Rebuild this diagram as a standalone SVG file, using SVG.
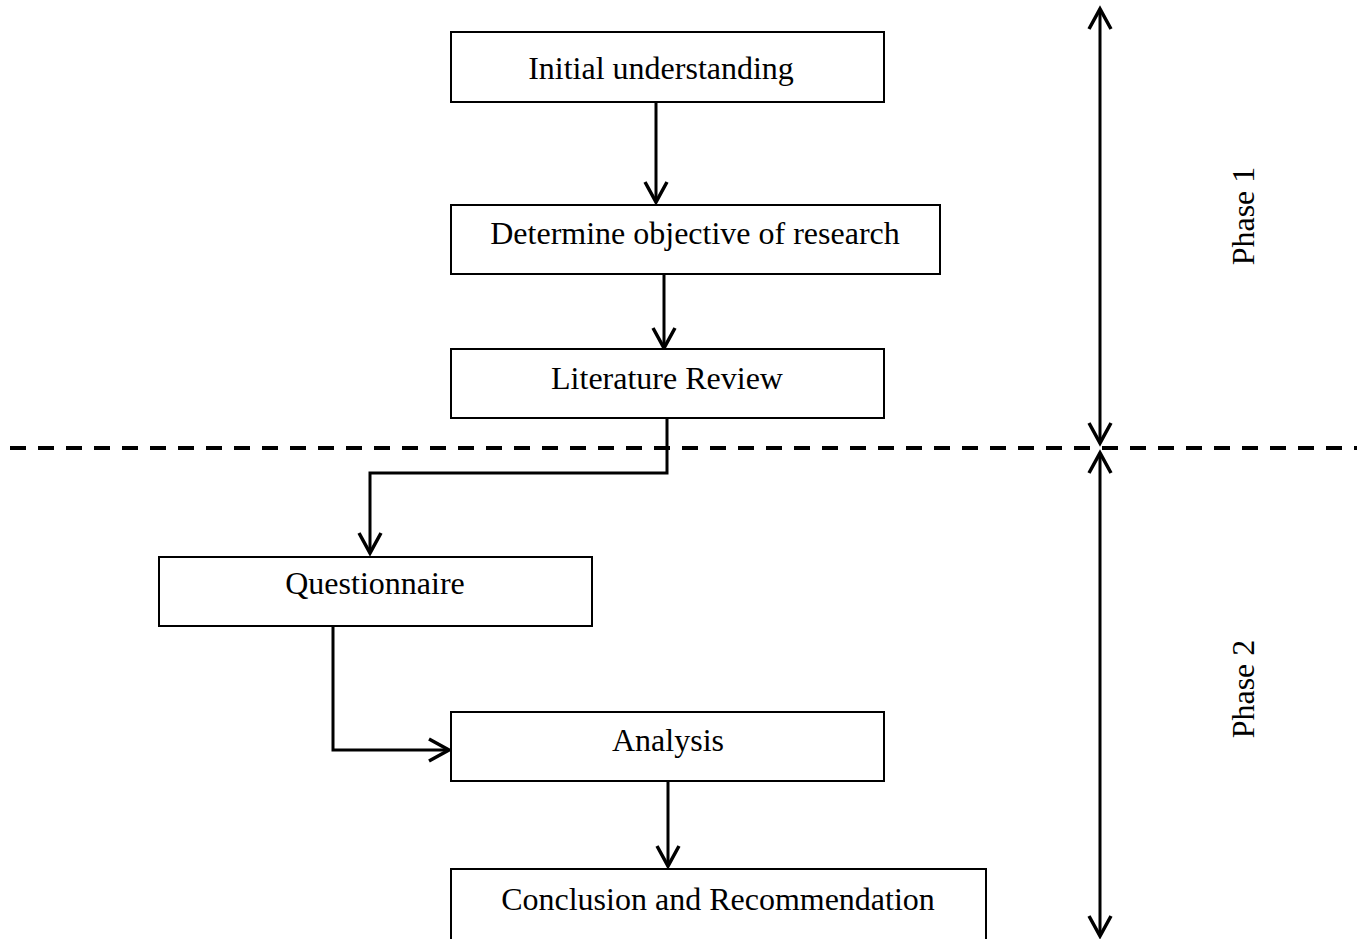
<svg xmlns="http://www.w3.org/2000/svg" width="1357" height="939" viewBox="0 0 1357 939">
<style>
.box{fill:#fff;stroke:#000;stroke-width:2}
.t{font-family:"Liberation Serif","Times New Roman",serif;font-size:32px;fill:#000;text-anchor:middle}
.c{fill:none;stroke:#000;stroke-width:3}
</style>
<defs>
<marker id="ah" markerWidth="24" markerHeight="26" refX="21" refY="13" orient="auto-start-reverse" markerUnits="userSpaceOnUse" overflow="visible">
<path d="M1,2 L21,13 L1,24" fill="none" stroke="#000" stroke-width="3.5"/>
</marker>
</defs>
<rect width="1357" height="939" fill="#fff"/>
<g id="connectors">
<line class="c" x1="656" y1="102" x2="656" y2="202" marker-end="url(#ah)"/>
<line class="c" x1="664" y1="274" x2="664" y2="348" marker-end="url(#ah)"/>
<polyline class="c" points="667,418 667,473 370,473 370,553" marker-end="url(#ah)"/>
<polyline class="c" points="333,626 333,750 449,750" marker-end="url(#ah)"/>
<line class="c" x1="668" y1="781" x2="668" y2="866" marker-end="url(#ah)"/>
<line x1="10" y1="448" x2="1357" y2="448" stroke="#000" stroke-width="4" stroke-dasharray="16,12"/>
<line class="c" x1="1100" y1="443" x2="1100" y2="9" marker-end="url(#ah)" marker-start="url(#ah)"/>
<line class="c" x1="1100" y1="453" x2="1100" y2="936" marker-end="url(#ah)" marker-start="url(#ah)"/>
</g>
<g id="n1"><rect class="box" x="451" y="32" width="433" height="70"/><text class="t" x="661" y="79">Initial understanding</text></g>
<g id="n2"><rect class="box" x="451" y="205" width="489" height="69"/><text class="t" x="695" y="244">Determine objective of research</text></g>
<g id="n3"><rect class="box" x="451" y="349" width="433" height="69"/><text class="t" x="667" y="389">Literature Review</text></g>
<g id="n4"><rect class="box" x="159" y="557" width="433" height="69"/><text class="t" x="375" y="594">Questionnaire</text></g>
<g id="n5"><rect class="box" x="451" y="712" width="433" height="69"/><text class="t" x="668" y="751">Analysis</text></g>
<g id="n6"><rect class="box" x="451" y="869" width="535" height="80"/><text class="t" x="718" y="910">Conclusion and Recommendation</text></g>
<g id="phase1"><text class="t" transform="translate(1254,216) rotate(-90)">Phase 1</text></g>
<g id="phase2"><text class="t" transform="translate(1254,689) rotate(-90)">Phase 2</text></g>
</svg>
